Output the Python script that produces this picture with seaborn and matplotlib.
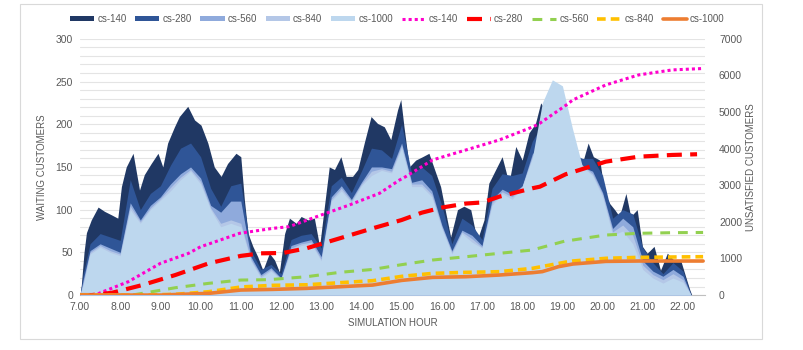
import numpy as np
import pandas as pd
import matplotlib
matplotlib.use("Agg")
import matplotlib.pyplot as plt
from matplotlib.patches import Patch, Rectangle
from matplotlib.lines import Line2D
from matplotlib.ticker import MultipleLocator
import seaborn as sns

# ---- waiting customers (left axis) ----
hours_140 = [7.0, 7.03, 7.1, 7.16, 7.28, 7.45, 7.61, 7.78, 7.94, 8.03, 8.15, 8.32, 8.48, 8.6,
             8.77, 8.94, 9.06, 9.18, 9.35, 9.47, 9.68, 9.85, 10.01, 10.18, 10.34, 10.51, 10.67,
             10.88, 11.0, 11.09, 11.18, 11.3, 11.42, 11.55, 11.71, 11.84, 11.96, 12.09, 12.21,
             12.38, 12.5, 12.67, 12.83, 12.96, 13.08, 13.2, 13.33, 13.49, 13.62, 13.78, 13.91,
             14.07, 14.24, 14.4, 14.57, 14.73, 14.9, 14.98, 15.06, 15.19, 15.35, 15.52, 15.68,
             15.85, 15.97, 16.1, 16.22, 16.39, 16.55, 16.72, 16.88, 17.05, 17.17, 17.34, 17.5,
             17.67, 17.84, 18.0, 18.17, 18.33, 18.46, 18.6, 18.8, 19.0, 19.2, 19.4, 19.52, 19.64,
             19.77, 19.93, 20.05, 20.18, 20.3, 20.42, 20.58, 20.7, 20.86, 20.99, 21.11, 21.28,
             21.44, 21.61, 21.77, 21.94, 22.07, 22.17, 22.22]
wait_140 = [0, 10, 50, 73, 88, 103, 98, 94, 90, 127, 150, 166, 123, 141,
            154, 166, 150, 178, 197, 209, 221, 205, 199, 178, 150, 139, 154,
            166, 162, 111, 72, 57, 45, 29, 49, 41, 27, 72, 90,
            84, 92, 88, 90, 57, 104, 150, 147, 162, 139, 139, 147,
            178, 209, 201, 197, 182, 217, 229, 197, 150, 158, 162, 166,
            143, 127, 96, 68, 100, 104, 100, 64, 88, 131, 147, 162,
            131, 174, 158, 190, 201, 225, 215, 205, 195, 180, 160, 158, 178,
            162, 158, 119, 107, 100, 92, 119, 92, 100, 57, 49, 57,
            29, 49, 41, 41, 21, 6, 0]

hours = [7.0, 7.08, 7.25, 7.5, 7.75, 8.0, 8.25, 8.5, 8.75, 9.0, 9.25, 9.5, 9.75, 10.0, 10.25,
         10.5, 10.75, 11.0, 11.25, 11.5, 11.75, 12.0, 12.25, 12.5, 12.75, 13.0, 13.25, 13.5,
         13.75, 14.0, 14.25, 14.5, 14.75, 15.0, 15.25, 15.5, 15.75, 16.0, 16.25, 16.5, 16.75,
         17.0, 17.25, 17.5, 17.75, 18.0, 18.25, 18.5, 18.75, 19.0, 19.25, 19.5, 19.75, 20.0,
         20.25, 20.5, 20.75, 21.0, 21.25, 21.5, 21.75, 22.0, 22.2]
wait_280 = [0, 25, 60, 72, 68, 64, 135, 100, 119, 128, 152, 172, 178, 162, 125,
            104, 128, 131, 52, 30, 36, 25, 65, 70, 72, 55, 128, 138,
            120, 145, 172, 170, 160, 200, 142, 150, 140, 105, 60, 90, 82,
            65, 125, 142, 140, 143, 180, 200, 185, 175, 165, 160, 160, 140,
            90, 100, 95, 55, 38, 25, 38, 28, 0]
wait_560 = [0, 18, 52, 60, 55, 50, 108, 88, 105, 115, 130, 142, 150, 137, 105,
            97, 110, 110, 45, 24, 32, 20, 58, 62, 65, 45, 115, 128,
            112, 132, 150, 150, 148, 178, 132, 135, 122, 82, 52, 76, 70,
            58, 112, 124, 118, 128, 165, 180, 178, 172, 160, 150, 145, 120,
            78, 90, 80, 40, 28, 22, 30, 22, 0]
wait_840 = [0, 14, 50, 58, 52, 48, 104, 86, 102, 113, 126, 138, 147, 133, 102,
            84, 88, 84, 42, 22, 30, 19, 55, 60, 62, 42, 112, 125,
            110, 130, 145, 148, 145, 175, 130, 130, 118, 80, 50, 74, 66,
            56, 108, 121, 115, 127, 162, 178, 175, 170, 160, 152, 142, 118,
            74, 82, 70, 35, 24, 18, 25, 18, 0]
wait_1000 = [0, 12, 48, 56, 50, 46, 100, 84, 100, 111, 122, 135, 145, 130, 100,
             80, 84, 80, 40, 20, 28, 18, 52, 58, 60, 40, 110, 122,
             108, 128, 140, 146, 143, 172, 127, 127, 115, 78, 48, 72, 62,
             55, 105, 119, 112, 127, 160, 225, 252, 245, 195, 150, 140, 115,
             70, 75, 60, 30, 20, 14, 20, 15, 0]

# ---- unsatisfied customers (right axis) ----
uns_hours_140 = [7.0, 7.4, 7.5, 8.2, 9.0, 9.7, 10.0, 10.25, 10.97, 11.8, 12.2, 13.0, 13.7,
                 14.45, 14.95, 15.1, 15.77, 16.6, 17.43, 18.28, 18.44, 19.1, 19.26, 20.08,
                 20.9, 21.73, 22.5]
uns_140 = [0, 0, 60, 364, 866, 1140, 1320, 1413, 1687, 1823, 1868, 2187, 2460,
           2780, 3144, 3234, 3691, 3964, 4238, 4601, 4694, 5195, 5331, 5741,
           6015, 6151, 6190]
uns_hours_280 = [7.0, 7.3, 7.8, 8.55, 8.96, 9.37, 10.2, 11.0, 11.5, 12.05, 12.63, 13.46, 14.28,
                 15.0, 15.5, 16.0, 16.6, 17.0, 17.43, 18.25, 18.44, 19.08, 19.26, 20.08, 20.9,
                 21.73, 22.35]
uns_280 = [0, 0, 63, 273, 410, 547, 866, 1070, 1140, 1150, 1276, 1550, 1823,
           2050, 2250, 2390, 2500, 2530, 2688, 2917, 2961, 3300, 3360, 3645, 3781,
           3828, 3847]
uns_hours_560 = [7.0, 8.3, 8.55, 9.37, 10.2, 11.0, 11.7, 12.63, 13.46, 14.28, 15.0, 15.77, 16.6,
                 17.43, 18.25, 19.08, 19.26, 20.08, 20.9, 21.73, 22.5]
uns_560 = [0, 0, 46, 200, 320, 410, 420, 500, 620, 700, 830, 957, 1047,
           1140, 1230, 1480, 1504, 1640, 1687, 1704, 1710]
uns_hours_840 = [7.0, 8.5, 9.37, 10.2, 11.0, 11.8, 12.63, 13.46, 14.28, 15.0, 15.77, 16.6, 17.43,
                 18.25, 19.08, 19.26, 20.08, 20.9, 22.5]
uns_840 = [0, 0, 20, 91, 220, 265, 280, 337, 392, 510, 592, 620, 638,
           729, 900, 930, 1003, 1030, 1048]
uns_hours_1000 = [7.0, 9.0, 10.2, 11.0, 11.8, 12.63, 13.46, 14.28, 15.0, 15.77, 16.6, 17.43,
                  18.25, 18.5, 18.9, 19.26, 20.08, 20.9, 22.5]
uns_1000 = [0, 0, 46, 137, 155, 182, 227, 273, 400, 483, 501, 547,
            611, 640, 775, 848, 920, 930, 930]

x_ticks = list(range(7, 23))
x_tick_labels = [f"{h}.00" for h in x_ticks]

sns.set_theme(style="white")
plt.rcParams['font.family'] = ['Liberation Sans Narrow', 'Liberation Sans', 'DejaVu Sans']
grey = '#595959'

fig = plt.figure(figsize=(8.04, 3.5), dpi=100)
ax = fig.add_axes([0.0995, 0.157, 0.7775, 0.732])

# outer chart frame
fig.patches.append(Rectangle((20 / 804, 1 - 339 / 350), 742 / 804, 335 / 350,
                             transform=fig.transFigure, fill=False,
                             edgecolor='#D9D9D9', linewidth=0.8))

area_series = [
    ('cs-140', hours_140, wait_140, '#203864'),
    ('cs-280', hours, wait_280, '#2F5597'),
    ('cs-560', hours, wait_560, '#8FAADC'),
    ('cs-840', hours, wait_840, '#B4C7E7'),
    ('cs-1000', hours, wait_1000, '#BDD7EE'),
]
handles = []
for i, (name, hx, hy, col) in enumerate(area_series):
    ax.fill_between(hx, hy, 0, color=col, linewidth=0, zorder=2 + i)
    handles.append(Patch(facecolor=col, edgecolor='none', label=name))

ax.set_xlim(7, 22.55)
ax.set_ylim(0, 300)
ax.yaxis.set_major_locator(MultipleLocator(50))
ax.yaxis.set_minor_locator(MultipleLocator(10))
ax.grid(which='both', axis='y', color='#E4E4E4', linewidth=0.8, zorder=0)
ax.grid(which='both', axis='x', visible=False)
ax.set_axisbelow(True)
ax.set_xticks(x_ticks)
ax.set_xticklabels(x_tick_labels)
ax.tick_params(axis='both', which='both', length=0, labelsize=7.5, colors=grey, pad=5)
for s in ['top', 'left', 'right']:
    ax.spines[s].set_visible(False)
ax.spines['bottom'].set_color('#BFBFBF')
ax.spines['bottom'].set_linewidth(0.8)
ax.set_xlabel('SIMULATION HOUR', fontsize=7, color=grey, labelpad=4)
ax.set_ylabel('WAITING CUSTOMERS', fontsize=7, color=grey, labelpad=6)

ax2 = ax.twinx()
line_series = [
    ('cs-140', uns_hours_140, uns_140, '#FF00CC', 2.2, (0, (1, 1))),
    ('cs-280', uns_hours_280, uns_280, '#FF0000', 3.0, (0, (3.6, 2.0))),
    ('cs-560', uns_hours_560, uns_560, '#92D050', 2.2, (0, (3.2, 2.6))),
    ('cs-840', uns_hours_840, uns_840, '#FFC000', 2.6, (0, (2.4, 1.4))),
    ('cs-1000', uns_hours_1000, uns_1000, '#ED7D31', 2.6, '-'),
]
for name, hx, hy, col, lw, ls in line_series:
    sns.lineplot(x=hx, y=hy, ax=ax2, color=col, linewidth=lw, linestyle=ls)
    handles.append(Line2D([], [], color=col, linewidth=lw, linestyle=ls, label=name))

ax2.set_ylim(0, 7000)
ax2.set_xlim(7, 22.55)
ax2.yaxis.set_major_locator(MultipleLocator(1000))
ax2.grid(False)
ax2.tick_params(axis='y', length=0, labelsize=7.5, colors=grey, pad=10)
for s in ['top', 'left', 'right', 'bottom']:
    ax2.spines[s].set_visible(False)
ax2.set_ylabel('UNSATISFIED CUSTOMERS', fontsize=7, color=grey, labelpad=3)

leg = fig.legend(handles=handles, loc='center', bbox_to_anchor=(0.494, 0.946), ncol=10,
                 frameon=False, fontsize=7, handlelength=2.5, handleheight=0.55,
                 handletextpad=0.3, columnspacing=0.9, labelcolor=grey)

fig.savefig('out.png', dpi=100, facecolor='white')
